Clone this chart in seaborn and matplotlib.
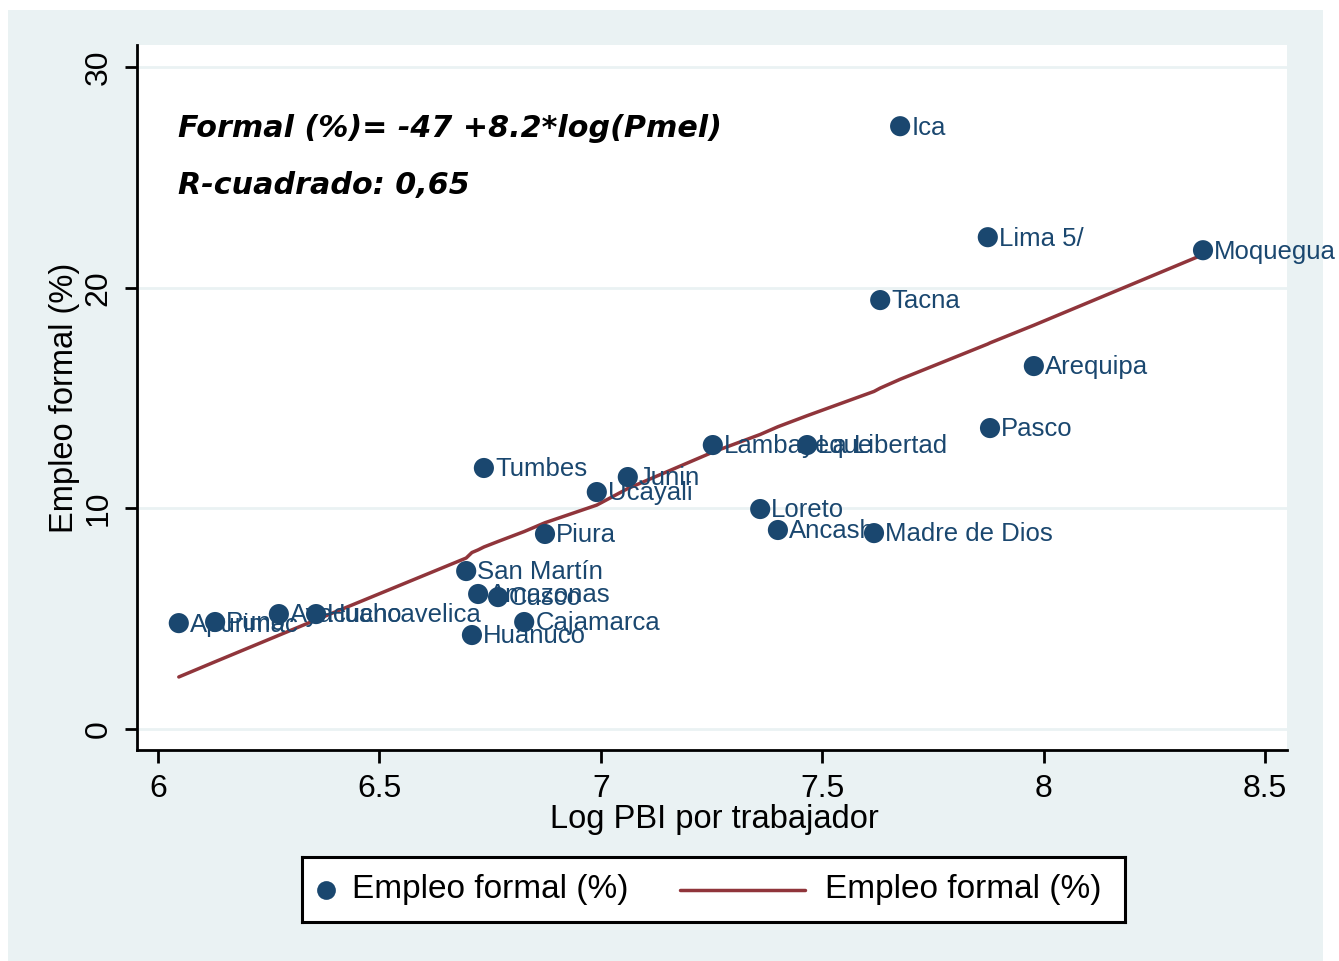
import numpy as np
import pandas as pd
import matplotlib
matplotlib.use("Agg")
import matplotlib.pyplot as plt
import seaborn as sns
from matplotlib.patches import Rectangle

# regions, log GDP per worker, formal employment (%)
regiones = ["Apurimac", "Puno", "Ayacucho", "Huancavelica", "San Martín", "Huanuco",
            "Amazonas", "Tumbes", "Cusco", "Cajamarca", "Piura", "Ucayali", "Junin",
            "Lambayeque", "Loreto", "Ancash", "La Libertad", "Madre de Dios", "Tacna",
            "Ica", "Lima 5/", "Pasco", "Arequipa", "Moquegua"]
log_pbi = [6.047, 6.129, 6.273, 6.357, 6.696, 6.709, 6.723, 6.736, 6.768, 6.827, 6.874,
           6.991, 7.061, 7.253, 7.360, 7.400, 7.466, 7.617, 7.631, 7.676, 7.874, 7.879,
           7.978, 8.360]
empleo_formal = [4.80, 4.85, 5.21, 5.21, 7.16, 4.26, 6.12, 11.83, 5.98, 4.85, 8.84,
                 10.74, 11.42, 12.87, 9.97, 9.02, 12.87, 8.88, 19.44, 27.32, 22.29,
                 13.64, 16.45, 21.70]
# fitted values
ajuste = [2.36, 3.05, 4.25, 4.95, 7.75, 8.00, 8.12, 8.25, 8.50, 8.95, 9.35, 10.15,
          10.90, 12.55, 13.35, 13.70, 14.20, 15.30, 15.45, 15.85, 17.45, 17.50, 18.30,
          21.50]

df = pd.DataFrame({"region": regiones, "x": log_pbi, "y": empleo_formal, "fit": ajuste})

navy = "#1a476f"
maroon = "#90353b"
bg = "#eaf2f3"

sns.set_style("white")
plt.rcParams["font.family"] = ["Liberation Sans", "DejaVu Sans"]

fig = plt.figure(figsize=(13.39, 9.61), dpi=100)
fig.patches.append(Rectangle((8 / 1339, 0), 1315 / 1339, 951 / 961,
                             transform=fig.transFigure, facecolor=bg, edgecolor="none", zorder=-5))
ax = fig.add_axes([137 / 1339, 1 - 750 / 961, 1150 / 1339, 705 / 961])
ax.set_zorder(2)
ax.set_facecolor("white")

sns.lineplot(data=df, x="x", y="fit", color=maroon, lw=2.5, ax=ax, sort=True, zorder=2)
sns.scatterplot(data=df, x="x", y="y", color=navy, s=210, edgecolor="none", ax=ax, zorder=3)
for _, r in df.iterrows():
    ax.annotate(r["region"], (r["x"], r["y"]), xytext=(8, -1), textcoords="offset points",
                va="center", ha="left", color=navy, fontsize=18.5, zorder=4,
                annotation_clip=False)

ax.set_xlim(5.9526, 8.5497)
ax.set_ylim(-0.95, 31.0)
ax.set_xticks([6, 6.5, 7, 7.5, 8, 8.5])
ax.set_xticklabels(["6", "6.5", "7", "7.5", "8", "8.5"])
ax.set_yticks([0, 10, 20, 30])
ax.grid(axis="y", color=bg, lw=2)
ax.grid(axis="x", visible=False)
for s in ["top", "right"]:
    ax.spines[s].set_visible(False)
for s in ["left", "bottom"]:
    ax.spines[s].set_color("black")
    ax.spines[s].set_linewidth(2)
ax.tick_params(axis="both", direction="out", length=9, width=2, color="black",
               labelcolor="black", labelsize=23, pad=8, left=True, bottom=True)
ax.tick_params(axis="y", labelrotation=90)
for t in ax.get_yticklabels():
    t.set_va("center")

ax.set_xlabel("Log PBI por trabajador", fontsize=23.5, va="center", color="black")
ax.xaxis.set_label_coords(0.502, -0.099)
ax.set_ylabel("Empleo formal (%)", fontsize=23.5, va="center", color="black")
ax.yaxis.set_label_coords(-0.063, 0.5)

ax.text(0.0357, 0.881, "Formal (%)= -47 +8.2*log(Pmel)", transform=ax.transAxes,
        fontsize=21.7, fontweight="bold", fontstyle="italic", family="DejaVu Sans",
        va="center", ha="left", color="black")
ax.text(0.0357, 0.80, "R-cuadrado: 0,65", transform=ax.transAxes,
        fontsize=21.7, fontweight="bold", fontstyle="italic", family="DejaVu Sans",
        va="center", ha="left", color="black")

# legend box drawn as its own small axes
lw_px, lh_px = 823, 65
lax = fig.add_axes([302 / 1339, 1 - 922 / 961, lw_px / 1339, lh_px / 961])
lax.set_zorder(3)
lax.set_xlim(0, lw_px)
lax.set_ylim(0, lh_px)
lax.set_xticks([])
lax.set_yticks([])
lax.set_facecolor("white")
for s in lax.spines.values():
    s.set_visible(True)
    s.set_color("black")
    s.set_linewidth(2.2)
lax.plot([24], [lh_px / 2], marker="o", ls="none", color=navy, markersize=13.5, mec="none")
lax.plot([378, 503], [lh_px / 2, lh_px / 2], color=maroon, lw=2.5)
lax.text(50, lh_px / 2, "Empleo formal (%)", fontsize=24, va="center", ha="left", color="black")
lax.text(523, lh_px / 2, "Empleo formal (%)", fontsize=24, va="center", ha="left", color="black")

fig.savefig("out.png", dpi=100, facecolor="white")
